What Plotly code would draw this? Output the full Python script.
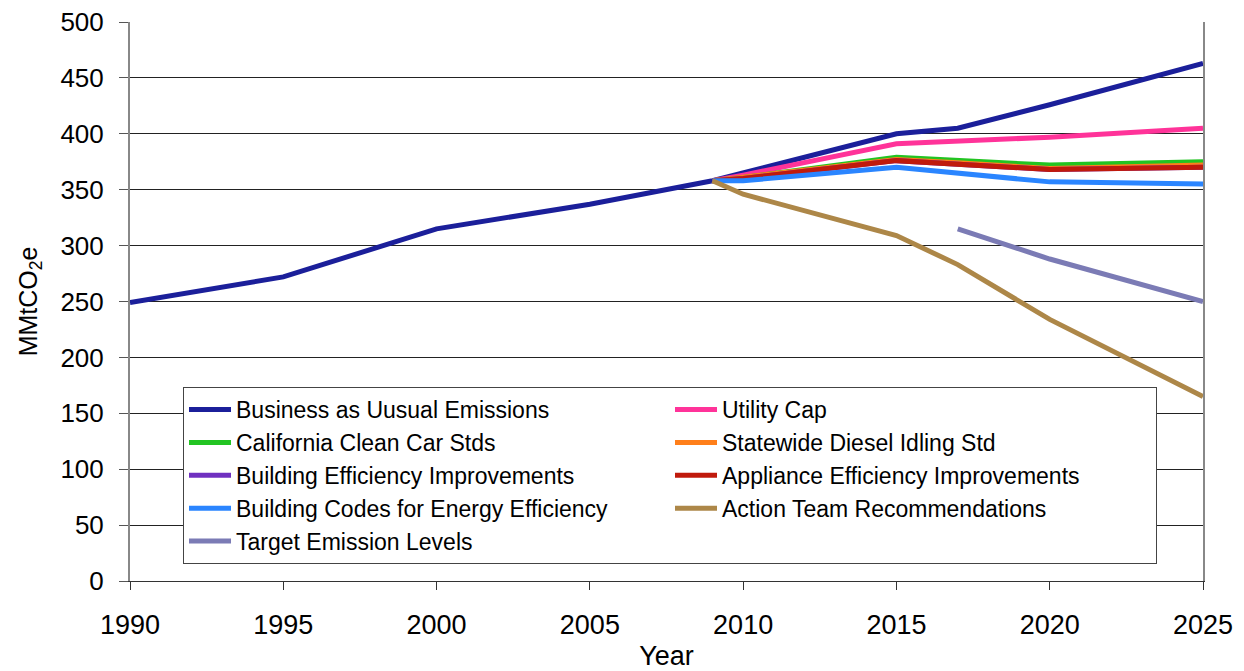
import plotly.graph_objects as go

years_bau = [1990, 1995, 2000, 2005, 2009, 2015, 2017, 2020, 2025]
bau = [249, 272, 315, 337, 358, 400, 405, 426, 463]

years_s = [2009, 2010, 2015, 2017, 2020, 2025]
utility_cap = [358, 363, 391, 393, 397, 405]
clean_car = [358, 361, 379, 376, 372, 375]
diesel_idling = [358, 361, 377, 374, 369, 372]
building_eff = [358, 360, 376, 373, 368, 370]
appliance_eff = [358, 360, 376, 373, 368, 370]
building_codes = [358, 358, 370, 365, 357, 355]
action_team = [358, 346, 309, 283, 234, 165]

years_target = [2017, 2020, 2025]
target = [315, 288, 250]

series = [
    ("Business as Uusual Emissions", years_bau, bau, "#1b1f9a"),
    ("Utility Cap", years_s, utility_cap, "#ff3399"),
    ("California Clean Car Stds", years_s, clean_car, "#22c422"),
    ("Statewide Diesel Idling Std", years_s, diesel_idling, "#ff7f1a"),
    ("Building Efficiency Improvements", years_s, building_eff, "#7030c0"),
    ("Appliance Efficiency Improvements", years_s, appliance_eff, "#c01a0c"),
    ("Building Codes for Energy Efficiency", years_s, building_codes, "#2a85ff"),
    ("Action Team Recommendations", years_s, action_team, "#ad8748"),
    ("Target Emission Levels", years_target, target, "#7b7bb5"),
]

fig = go.Figure()
for name, xs, ys, col in series:
    fig.add_trace(go.Scatter(x=xs, y=ys, name=name, mode="lines",
                             line=dict(color=col, width=5)))

fig.update_layout(
    width=1236, height=663,
    margin=dict(l=122, r=41, t=14, b=90),
    paper_bgcolor="white", plot_bgcolor="white",
    font=dict(family="Arial, Liberation Sans, sans-serif", color="black"),
    showlegend=True,
    legend=dict(
        orientation="h", x=0.0494, y=0.347, xanchor="left", yanchor="top",
        entrywidth=429, itemwidth=42,
        font=dict(size=23, family="Arial, Liberation Sans, sans-serif"),
        bgcolor="white", bordercolor="#444", borderwidth=1,
        traceorder="normal",
    ),
    xaxis=dict(
        range=[1990, 2025], tick0=1990, dtick=5, automargin=False,
        showgrid=False, zeroline=False,
        showline=True, linecolor="#333", linewidth=1, mirror=False,
        ticks="outside", ticklen=8, tickcolor="#333",
        ticklabelstandoff=12, ticklabeloverflow="allow",
        tickfont=dict(size=27),
        title=dict(text="Year", font=dict(size=27), standoff=6),
    ),
    yaxis=dict(
        range=[0, 500], tick0=0, dtick=50, automargin=False,
        showgrid=True, gridcolor="#222", gridwidth=1, zeroline=False,
        showline=True, linecolor="#888", linewidth=2, mirror=True,
        ticks="outside", ticklen=9, tickcolor="#555",
        ticklabelstandoff=10, ticklabeloverflow="allow",
        tickfont=dict(size=26),
        title=dict(text="MMtCO<sub>2</sub>e", font=dict(size=25), standoff=16),
    ),
)

fig.write_html("out.html")
